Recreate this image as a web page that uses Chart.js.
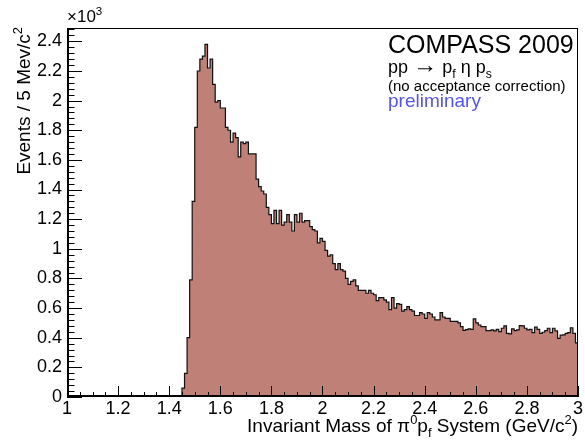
<!DOCTYPE html>
<html><head><meta charset="utf-8">
<script src="https://cdn.jsdelivr.net/npm/chart.js@4.4.1/dist/chart.umd.min.js"></script>
<style>html,body{margin:0;padding:0;background:#fff;overflow:hidden}</style>
</head><body>
<canvas id="c" width="585" height="440"></canvas>
<script>
// ---- data (events per bin, bins of 0.01 GeV/c^2 from 1.00 to 3.00) ----
const massMin = 1.0;
const massMax = 3.0;
const binWidth = 0.01;
const counts = [
  0,0,0,0,0,0,0,0,0,0, 0,0,0,0,0,0,0,0,0,0,
  0,0,0,0,0,0,0,0,0,0, 0,0,0,0,0,0,0,0,0,0,
  0,0,0,0,10,60,160,400,790,1320,
  1820,2200,2280,2300,2380,2220,2280,2110,1990,2000,
  1950,1950,1820,1800,1720,1780,1750,1620,1720,1710,
  1720,1640,1640,1640,1470,1420,1390,1370,1280,1230,
  1170,1260,1170,1260,1160,1180,1230,1180,1120,1230,
  1180,1240,1180,1190,1190,1150,1130,1120,1040,1070,
  1050,990,950,960,900,860,900,860,850,800,
  760,780,790,750,720,720,720,700,720,700,
  690,650,670,670,655,640,590,670,600,630,
  625,580,590,610,590,580,550,550,570,560,
  530,570,560,540,520,520,570,540,530,530,
  510,510,510,500,475,450,455,460,457,527,
  500,486,475,475,448,448,453,446,457,441,
  464,480,430,426,460,448,453,482,480,464,
  453,457,435,471,457,430,437,448,464,435,
  464,446,396,417,419,430,435,467,430,365
];
const xTickValues = [1,1.2,1.4,1.6,1.8,2,2.2,2.4,2.6,2.8,3];
const xTickLabels = ['1','1.2','1.4','1.6','1.8','2','2.2','2.4','2.6','2.8','3'];
const xMinorDiv = 4;
const yTickValues = [0,200,400,600,800,1000,1200,1400,1600,1800,2000,2200,2400];
const yTickLabels = ['0','0.2','0.4','0.6','0.8','1','1.2','1.4','1.6','1.8','2','2.2','2.4'];
const yMinorDiv = 5;
const yMax = 2490;

const FONT = '"Liberation Sans", Arial, Helvetica, sans-serif';

// histogram points at bin low edges (+ closing edge)
const points = counts.map((c, i) => ({x: massMin + i * binWidth, y: c}));
points.push({x: massMax, y: counts[counts.length - 1]});

function drawRich(ctx, runs, x, y, size, align, color) {
  ctx.save();
  ctx.fillStyle = color || '#000';
  ctx.textBaseline = 'alphabetic';
  ctx.textAlign = 'left';
  const pieces = runs.map(([t, m, scale]) => {
    const s = m ? size * 0.68 : size * (scale || 1);
    ctx.font = s + 'px ' + FONT;
    return {t, m, s, w: ctx.measureText(t).width};
  });
  const total = pieces.reduce((a, p) => a + p.w, 0);
  let cx = align === 'right' ? x - total : x;
  for (const p of pieces) {
    ctx.font = p.s + 'px ' + FONT;
    const dy = p.m === 'sup' ? -size * 0.42 : (p.m === 'sub' ? size * 0.28 : 0);
    ctx.fillText(p.t, cx, y + dy);
    cx += p.w;
  }
  ctx.restore();
}

const rootPlugin = {
  id: 'rootStyle',
  afterDatasetsDraw(chart) {
    const ctx = chart.ctx;
    const xs = chart.scales.x, ys = chart.scales.y;
    const {left, right, top, bottom} = chart.chartArea;
    ctx.save();
    ctx.strokeStyle = '#000';
    ctx.lineWidth = 1;
    ctx.beginPath();
    const yStep = yTickValues[1] - yTickValues[0];
    for (let k = 0; ; k++) {
      const v = k * yStep / yMinorDiv;
      if (v > yMax + 1e-6) break;
      const py = Math.round(ys.getPixelForValue(v)) + 0.5;
      const len = (k % yMinorDiv === 0) ? 15 : 7.5;
      ctx.moveTo(left, py); ctx.lineTo(left + len, py);
    }
    const xStep = xTickValues[1] - xTickValues[0];
    for (let k = 0; ; k++) {
      const v = massMin + k * xStep / xMinorDiv;
      if (v > massMax + 1e-6) break;
      const px = Math.round(xs.getPixelForValue(v)) + 0.5;
      const len = (k % xMinorDiv === 0) ? 11 : 5;
      ctx.moveTo(px, bottom); ctx.lineTo(px, bottom - len);
    }
    ctx.stroke();
    // frame
    ctx.strokeRect(Math.round(left) + 0.5, Math.round(top) + 0.5, Math.round(right - left) - 1, Math.round(bottom - top) - 1);
    // axis lines (slightly heavier)
    ctx.lineWidth = 2;
    ctx.beginPath();
    ctx.moveTo(Math.round(left) + 1, Math.round(top));
    ctx.lineTo(Math.round(left) + 1, Math.round(bottom) - 1);
    ctx.lineTo(Math.round(right), Math.round(bottom) - 1);
    ctx.stroke();
    ctx.restore();

    drawRich(ctx, [['\u00d710'], ['3', 'sup']], left, top - 6, 17, 'left');
    drawRich(ctx, [['Invariant Mass of \u03c0'], ['0', 'sup'], ['p'], ['f', 'sub'], [' System (GeV/c'], ['2', 'sup'], [')']], right, 432, 19, 'right');
    ctx.save();
    ctx.translate(30, top - 1);
    ctx.rotate(-Math.PI / 2);
    drawRich(ctx, [['Events / 5 Mev/c'], ['2', 'sup']], 0, 0, 19, 'right');
    ctx.restore();
    drawRich(ctx, [['COMPASS 2009']], 388, 53, 25, 'left');
    drawRich(ctx, [['pp '], ['\u2192', null, 1.35], [' p'], ['f', 'sub'], [' \u03b7 p'], ['s', 'sub']], 388, 73, 18, 'left');
    drawRich(ctx, [['(no acceptance correction)']], 388, 91, 15, 'left');
    drawRich(ctx, [['preliminary']], 388, 107, 19, 'left', '#5454ee');
  }
};

new Chart(document.getElementById('c'), {
  type: 'line',
  data: {
    datasets: [{
      data: points,
      stepped: 'before',
      fill: 'origin',
      backgroundColor: '#bf8078',
      borderColor: '#111',
      borderWidth: 1.2,
      pointRadius: 0,
      tension: 0
    }]
  },
  options: {
    responsive: false,
    animation: false,
    devicePixelRatio: 1,
    layout: {padding: {top: 28, right: 7, left: 0, bottom: 0}},
    plugins: {legend: {display: false}, tooltip: {enabled: false}},
    scales: {
      x: {
        type: 'linear', min: massMin, max: massMax,
        afterBuildTicks: s => { s.ticks = xTickValues.map(v => ({value: v})); },
        afterFit: s => { s.height = 43; },
        ticks: {
          autoSkip: false, maxRotation: 0, padding: 1,
          color: '#000', font: {family: FONT, size: 18},
          callback: (v, i) => xTickLabels[i]
        },
        grid: {display: false, drawTicks: false},
        border: {display: false}
      },
      y: {
        type: 'linear', min: 0, max: yMax,
        afterBuildTicks: s => { s.ticks = yTickValues.map(v => ({value: v})); },
        afterFit: s => { s.width = 67; },
        ticks: {
          autoSkip: false, padding: 5,
          color: '#000', font: {family: FONT, size: 18},
          callback: (v, i) => yTickLabels[i]
        },
        grid: {display: false, drawTicks: false},
        border: {display: false}
      }
    }
  },
  plugins: [rootPlugin]
});
</script>
</body></html>
